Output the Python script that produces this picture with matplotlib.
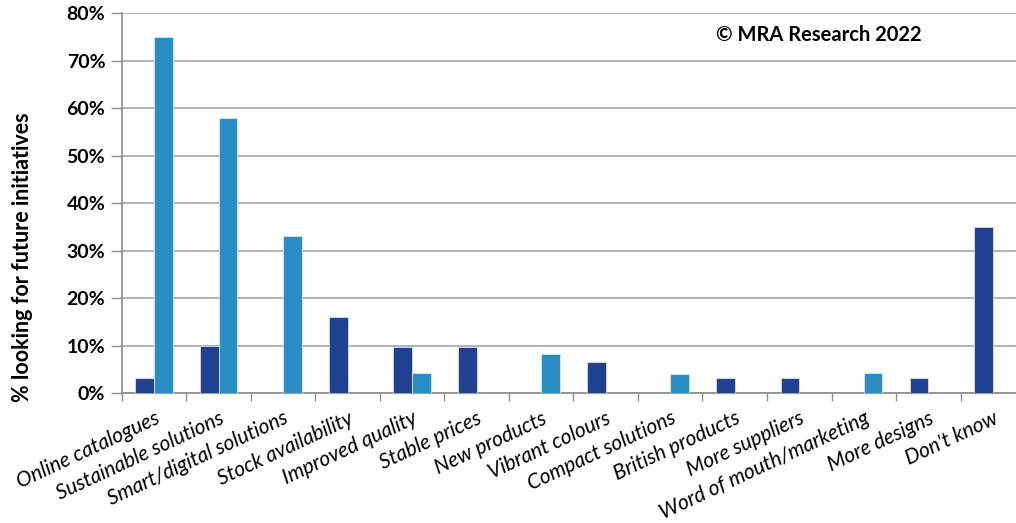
import matplotlib
matplotlib.use('Agg')
import matplotlib.pyplot as plt
import numpy as np

categories = ['Online catalogues', 'Sustainable solutions', 'Smart/digital solutions',
              'Stock availability', 'Improved quality', 'Stable prices', 'New products',
              'Vibrant colours', 'Compact solutions', 'British products', 'More suppliers',
              'Word of mouth/marketing', 'More designs', "Don't know"]
series_dark = [3.2, 9.8, 0, 16.1, 9.7, 9.7, 0, 6.5, 0, 3.2, 3.2, 0, 3.2, 35.0]
series_light = [75.0, 58.0, 33.0, 0, 4.2, 0, 8.3, 0, 4.0, 0, 0, 4.2, 0, 0]
yticks = [0, 10, 20, 30, 40, 50, 60, 70, 80]

plt.rcParams['font.family'] = ['Lato', 'DejaVu Sans']

fig = plt.figure(figsize=(10.16, 5.23), dpi=100)
ax = fig.add_axes([0.12, 0.2486, 0.88, 0.726])

x = np.arange(len(categories))
w = 0.29
ax.bar(x - w/2, series_dark, w, color='#1F418F', edgecolor='#d8e0ee', linewidth=0.6, zorder=3)
ax.bar(x + w/2, series_light, w, color='#2A8EC4', edgecolor='#d8eaf5', linewidth=0.6, zorder=3)

ax.set_ylim(0, 80)
ax.set_xlim(-0.5, 13.36)
ax.set_yticks(yticks)
ax.set_yticklabels([f'{t}%' for t in yticks], fontsize=14, fontweight='bold')
ax.grid(axis='y', color='#a6a6a6', linewidth=1.2, zorder=0)

# category ticks sit between groups
ax.set_xticks(np.arange(-0.5, 13.5, 1.0), minor=True)
ax.set_xticks(x)
ax.set_xticklabels(categories, rotation=25, ha='right', rotation_mode='anchor',
                   fontsize=15, fontstyle='italic')
ax.tick_params(axis='x', which='major', length=0, pad=11)
ax.tick_params(axis='x', which='minor', length=6, color='#8c8c8c', width=1)
ax.tick_params(axis='y', length=8, color='#8c8c8c', width=1, pad=4)

for s in ['top', 'right']:
    ax.spines[s].set_visible(False)
ax.spines['left'].set_color('#8c8c8c')
ax.spines['bottom'].set_color('#8c8c8c')
ax.spines['left'].set_linewidth(1.2)
ax.spines['bottom'].set_linewidth(1.2)

fig.text(0.022, 0.508, '% looking for future initiatives', rotation=90,
         fontsize=15.5, fontweight='bold', ha='center', va='center')
ax.text(0.665, 0.942, '\u00a9 MRA Research 2022', transform=ax.transAxes,
        fontsize=14.5, fontweight='bold', va='center', ha='left')

fig.savefig('out.png', dpi=100)
